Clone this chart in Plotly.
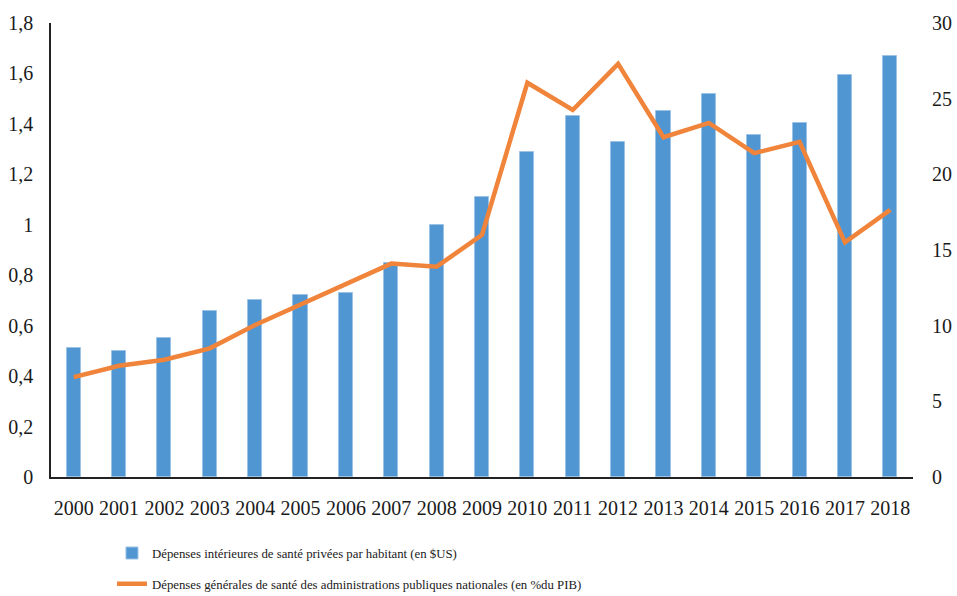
import plotly.graph_objects as go

years = [str(y) for y in range(2000, 2019)]

# Dépenses intérieures de santé privées par habitant (en $US) - axe gauche
privees = [0.51, 0.50, 0.55, 0.66, 0.70, 0.72, 0.73, 0.85, 1.00, 1.11,
           1.29, 1.43, 1.33, 1.45, 1.52, 1.355, 1.405, 1.595, 1.67]

# Dépenses générales de santé des administrations publiques (en % du PIB) - axe droit
publiques = [6.6, 7.35, 7.75, 8.5, 10.05, 11.4, 12.8, 14.1, 13.9, 16.0,
             26.05, 24.25, 27.3, 22.45, 23.4, 21.4, 22.15, 15.5, 17.65]

serif = "Liberation Serif"

fig = go.Figure()
fig.add_trace(go.Bar(
    x=years, y=privees,
    name="Dépenses intérieures de santé privées par habitant (en $US)",
    marker_color="#5096D2",
    marker_line=dict(color="#9CC3E6", width=1),
    width=0.31,
    legendgroup="a",
))
fig.add_trace(go.Scatter(
    x=years, y=publiques,
    name="Dépenses générales de santé des administrations publiques nationales (en %du PIB)",
    mode="lines",
    line=dict(color="#F0843A", width=4.5),
    yaxis="y2",
    legendgroup="b",
))

fig.update_layout(
    width=957, height=596,
    margin=dict(l=51, r=44, t=23, b=119, autoexpand=False),
    plot_bgcolor="white",
    paper_bgcolor="white",
    separators=", ",
    font=dict(family=serif, size=20, color="#1a1a1a"),
    bargap=0.0,
    xaxis=dict(
        showline=True, linecolor="#222222", linewidth=1.5,
        showgrid=False, ticks="", ticklabelstandoff=12,
        automargin=False,
    ),
    yaxis=dict(
        range=[0, 1.8], dtick=0.2,
        showline=True, linecolor="#222222", linewidth=1.5,
        showgrid=False, zeroline=False, ticks="", ticklabelstandoff=12,
        automargin=False,
    ),
    yaxis2=dict(
        range=[0, 30], dtick=5, overlaying="y", side="right",
        showline=False, showgrid=False, zeroline=False, ticks="",
        ticklabelstandoff=18, automargin=False,
    ),
    showlegend=True,
    legend=dict(
        xref="container", yref="container",
        x=0.117, y=0.097, xanchor="left", yanchor="top",
        orientation="v",
        font=dict(family=serif, size=12.8, color="#1a1a1a"),
        tracegroupgap=11,
        itemwidth=30,
    ),
)

# the page body has a default 8px margin; drop it so the figure fills the window
fig.write_html("out.html",
               config={"displayModeBar": False},
               post_script="document.body.style.margin='0';document.body.style.overflow='hidden';")
